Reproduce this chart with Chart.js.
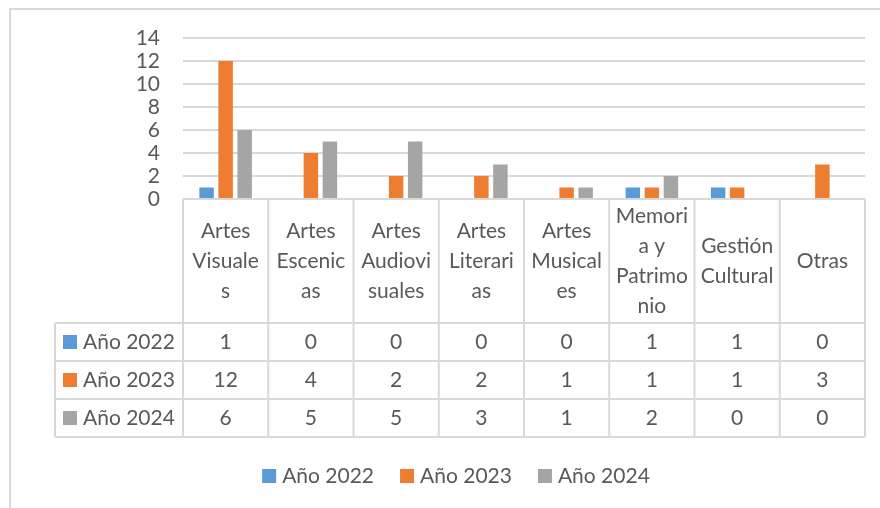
<!DOCTYPE html>
<html>
<head>
<meta charset="utf-8">
<script src="https://cdn.jsdelivr.net/npm/chart.js@4.4.1/dist/chart.umd.min.js"></script>
<style>
  body { margin: 0; background: #fff; }
  #wrap { width: 880px; height: 508px; }
</style>
</head>
<body>
<div id="wrap"><canvas id="areasChart" width="880" height="508"></canvas></div>
<script>
// categories (split into the lines shown in the table header)
const categories = [
  ['Artes', 'Visuale', 's'],
  ['Artes', 'Escenic', 'as'],
  ['Artes', 'Audiovi', 'suales'],
  ['Artes', 'Literari', 'as'],
  ['Artes', 'Musical', 'es'],
  ['Memori', 'a y', 'Patrimo', 'nio'],
  ['Gestión', 'Cultural'],
  ['Otras']
];
const seriesNames = ['Año 2022', 'Año 2023', 'Año 2024'];
const year2022 = [1, 0, 0, 0, 0, 1, 1, 0];
const year2023 = [12, 4, 2, 2, 1, 1, 1, 3];
const year2024 = [6, 5, 5, 3, 1, 2, 0, 0];
const yTicks = [0, 2, 4, 6, 8, 10, 12, 14];

const colors = ['#5B9BD5', '#ED7D31', '#A5A5A5'];
const textColor = '#595959';
const lineColor = '#d9d9d9';
const fontFamily = 'Lato, "Liberation Sans", sans-serif';

const headerH = 124;
const rowH = 38;
const tableLeft = 55;
const legendGap = 39;   // table bottom -> legend centre
const legendCenterX = 456;

// data table + legend drawn under the plot, using the x scale positions
const dataTable = {
  id: 'dataTable',
  beforeDraw(chart) {
    const ctx = chart.ctx;
    ctx.save();
    ctx.strokeStyle = lineColor;
    ctx.lineWidth = 2;
    ctx.beginPath();
    ctx.moveTo(10, 508);
    ctx.lineTo(10, 9);
    ctx.lineTo(880, 9);
    ctx.stroke();
    ctx.restore();
  },
  afterDraw(chart) {
    const ctx = chart.ctx;
    const x = chart.scales.x;
    const area = chart.chartArea;
    const top = area.bottom;
    const rowsTop = top + headerH;
    const bottom = rowsTop + rowH * seriesNames.length;
    const n = categories.length;
    const step = (area.right - area.left) / n;
    ctx.save();
    ctx.strokeStyle = lineColor;
    ctx.lineWidth = 2;
    ctx.beginPath();
    ctx.moveTo(area.left, top);
    ctx.lineTo(area.right, top);
    for (let r = 0; r <= seriesNames.length; r++) {
      ctx.moveTo(tableLeft, rowsTop + r * rowH);
      ctx.lineTo(area.right, rowsTop + r * rowH);
    }
    for (let i = 0; i <= n; i++) {
      const cx = area.left + i * step;
      ctx.moveTo(cx, top);
      ctx.lineTo(cx, bottom);
    }
    ctx.moveTo(tableLeft, rowsTop);
    ctx.lineTo(tableLeft, bottom);
    ctx.stroke();

    ctx.fillStyle = textColor;
    ctx.font = '21px ' + fontFamily;
    ctx.textAlign = 'center';
    ctx.textBaseline = 'middle';
    const lineH = 30;
    const mid = top + headerH / 2;
    categories.forEach((lines, i) => {
      const cx = x.getPixelForValue(i);
      const y0 = mid - (lines.length - 1) * lineH / 2;
      lines.forEach((t, k) => ctx.fillText(t, cx, y0 + k * lineH));
    });

    chart.data.datasets.forEach((ds, r) => {
      const cy = rowsTop + r * rowH + rowH / 2;
      ctx.fillStyle = ds.backgroundColor;
      ctx.fillRect(63, cy - 7, 14, 14);
      ctx.fillStyle = textColor;
      ctx.textAlign = 'left';
      ctx.fillText(ds.label, 83, cy);
      ctx.textAlign = 'center';
      ds.data.forEach((v, i) => ctx.fillText(String(v), x.getPixelForValue(i), cy));
    });

    // legend
    const ly = bottom + legendGap;
    const itemW = chart.data.datasets.map(ds => 20 + ctx.measureText(ds.label).width);
    const total = itemW.reduce((a, b) => a + b, 0) + 26 * (itemW.length - 1);
    let lx = legendCenterX - total / 2;
    ctx.textAlign = 'left';
    chart.data.datasets.forEach((ds, i) => {
      ctx.fillStyle = ds.backgroundColor;
      ctx.fillRect(lx, ly - 7, 14, 14);
      ctx.fillStyle = textColor;
      ctx.fillText(ds.label, lx + 20, ly);
      lx += itemW[i] + 26;
    });
    ctx.restore();
  }
};

new Chart(document.getElementById('areasChart'), {
  type: 'bar',
  data: {
    labels: categories.map(c => c.join(' ')),
    datasets: [
      { label: seriesNames[0], data: year2022, backgroundColor: colors[0] },
      { label: seriesNames[1], data: year2023, backgroundColor: colors[1] },
      { label: seriesNames[2], data: year2024, backgroundColor: colors[2] }
    ]
  },
  options: {
    responsive: false,
    devicePixelRatio: 1,
    animation: false,
    categoryPercentage: 0.67,
    barPercentage: 0.76,
    layout: { padding: { top: 38, right: 15, left: 0, bottom: 0 } },
    plugins: {
      tooltip: { enabled: false },
      legend: { display: false }
    },
    scales: {
      x: {
        ticks: { display: false },
        grid: { display: false },
        border: { display: false },
        afterFit: s => { s.height = 508 - 199; }
      },
      y: {
        min: 0,
        max: 14,
        afterBuildTicks: s => { s.ticks = yTicks.map(v => ({ value: v })); },
        ticks: {
          autoSkip: false,
          padding: 23,
          color: textColor,
          font: { family: fontFamily, size: 21 }
        },
        grid: { color: lineColor, lineWidth: 2, drawTicks: false },
        border: { display: false },
        afterFit: s => { s.width = 183; }
      }
    }
  },
  plugins: [dataTable]
});
</script>
</body>
</html>
